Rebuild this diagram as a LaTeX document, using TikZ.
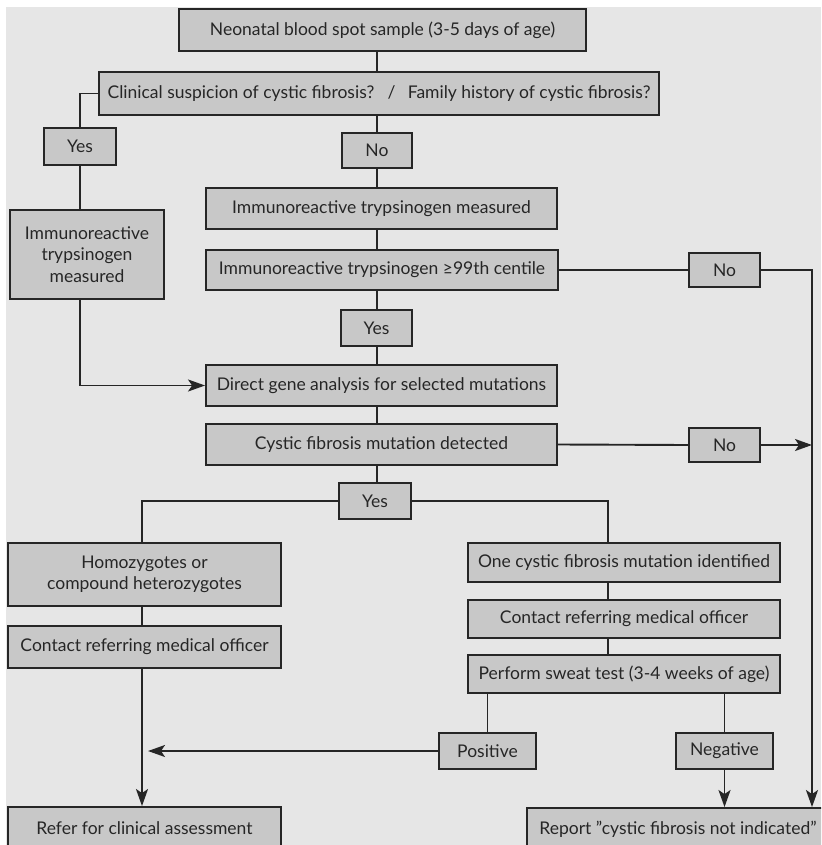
\documentclass[tikz,border=0pt]{standalone}
\usepackage{fontspec}
\setmainfont{Lato}
\usetikzlibrary{arrows.meta}
\definecolor{bg}{HTML}{E6E6E6}
\definecolor{boxfill}{HTML}{C8C8C8}
\definecolor{ink}{HTML}{262626}
\tikzset{
  fbox/.style={draw=ink, line width=1.9pt, fill=boxfill, inner sep=0pt, text=ink,
    font=\fontsize{17.5}{21.5}\selectfont, align=center},
  conn/.style={draw=ink, line width=1.9pt},
  arr/.style={conn, -{Stealth[length=17pt,width=12pt,inset=4pt]}},
}
\newcommand{\bx}[7]{% name, x1,y1,x2,y2, text, extra
  \node[fbox, minimum width={#4-#2}, minimum height={#5-#3}, #7] (#1) at ({(#2+#4)/2},{(#3+#5)/2}) {#6};}
\begin{document}
\begin{tikzpicture}[x=1pt,y=-1pt]
\useasboundingbox (0,0) rectangle (821,845);
\fill[white] (0,0) rectangle (821,845);
\fill[bg] (6,7) rectangle (821,845);
\begin{scope}
\clip (0,0) rectangle (821,845);
\bx{b1}{179}{9}{586}{51}{Neonatal blood spot sample (3-5 days of age)}{}
\bx{b2}{99}{72}{659}{115}{Clinical suspicion of cystic fibrosis?\hspace{0.75em}/\hspace{0.45em} Family history of cystic fibrosis?}{}
\bx{yesA}{44}{128}{116}{165}{Yes}{}
\bx{noA}{342}{133}{412}{168}{No}{}
\bx{b3}{206}{188}{557}{229}{Immunoreactive trypsinogen measured}{}
\bx{b4}{206}{250}{558}{290}{Immunoreactive trypsinogen \char"2265 99th centile}{}
\bx{irt}{10}{210}{164}{299}{Immunoreactive\\trypsinogen\\measured}{}
\bx{noB}{689}{253}{760}{287}{No}{}
\bx{yesB}{341}{310}{412}{346}{Yes}{}
\bx{b5}{206}{365}{557}{406}{Direct gene analysis for selected mutations}{}
\bx{b6}{206}{424}{557}{465}{Cystic fibrosis mutation detected}{}
\bx{noC}{689}{428}{760}{462}{No}{}
\bx{yesC}{339}{483}{411}{519}{Yes}{}
\bx{homo}{8}{543}{281}{606}{Homozygotes or\\compound heterozygotes}{}
\bx{one}{468}{543}{780}{582}{One cystic fibrosis mutation identified}{}
\bx{contL}{8}{626}{281}{668}{Contact referring medical officer}{}
\bx{contR}{468}{600}{780}{638}{Contact referring medical officer}{}
\bx{sweat}{468}{655}{780}{693}{Perform sweat test (3-4 weeks of age)}{}
\bx{pos}{439}{733}{536}{769}{Positive}{}
\bx{neg}{676}{733}{773}{769}{Negative}{}
\bx{refer}{8}{807}{281}{849}{Refer for clinical assessment}{}
\bx{report}{527}{808}{829}{850}{Report \symbol{"22}cystic fibrosis not indicated\symbol{"22}}{}
\coordinate (tx) at (377,0);
\coordinate (ox) at (608,0);
\coordinate (lx) at (142,0);
\coordinate (rx) at (812,0);
% trunk
\draw[conn] (tx |- b1.south) -- (tx |- b2.north);
\draw[conn] (tx |- b2.south) -- (noA.north);
\draw[conn] (noA.south) -- (tx |- b3.north);
\draw[conn] (tx |- b3.south) -- (tx |- b4.north);
\draw[conn] (tx |- b4.south) -- (tx |- yesB.north);
\draw[conn] (tx |- yesB.south) -- (tx |- b5.north);
\draw[conn] (tx |- b5.south) -- (tx |- b6.north);
\draw[conn] (tx |- b6.south) -- (tx |- yesC.north);
% left branch
\draw[conn] (b2.west) -| (yesA.north);
\draw[conn] (yesA.south) -- (yesA.south |- irt.north);
\draw[arr] (yesA.south |- irt.south) |- (b5.west);
% right branch 1
\draw[conn] (b4.east) -- (noB.west);
\draw[arr] (noB.east) -| (rx |- report.north);
% right branch 2
\draw[conn] (b6.east) -- (noC.west);
\draw[arr] (noC.east) -- (noC.east -| rx);
% split
\draw[conn] (yesC.west) -| (lx |- homo.north);
\draw[conn] (yesC.east) -| (ox |- one.north);
\draw[conn] (lx |- homo.south) -- (lx |- contL.north);
\draw[arr] (lx |- contL.south) -- (lx |- refer.north);
\draw[conn] (ox |- one.south) -- (ox |- contR.north);
\draw[conn] (ox |- contR.south) -- (ox |- sweat.north);
\draw[conn] (pos.north |- sweat.south) -- (pos.north);
\draw[conn] (neg.north |- sweat.south) -- (neg.north);
\draw[arr, shorten >=6pt] (pos.west) -- (pos.west -| lx);
\draw[arr] (neg.south) -- (neg.south |- report.north);
\end{scope}
\end{tikzpicture}
\end{document}
